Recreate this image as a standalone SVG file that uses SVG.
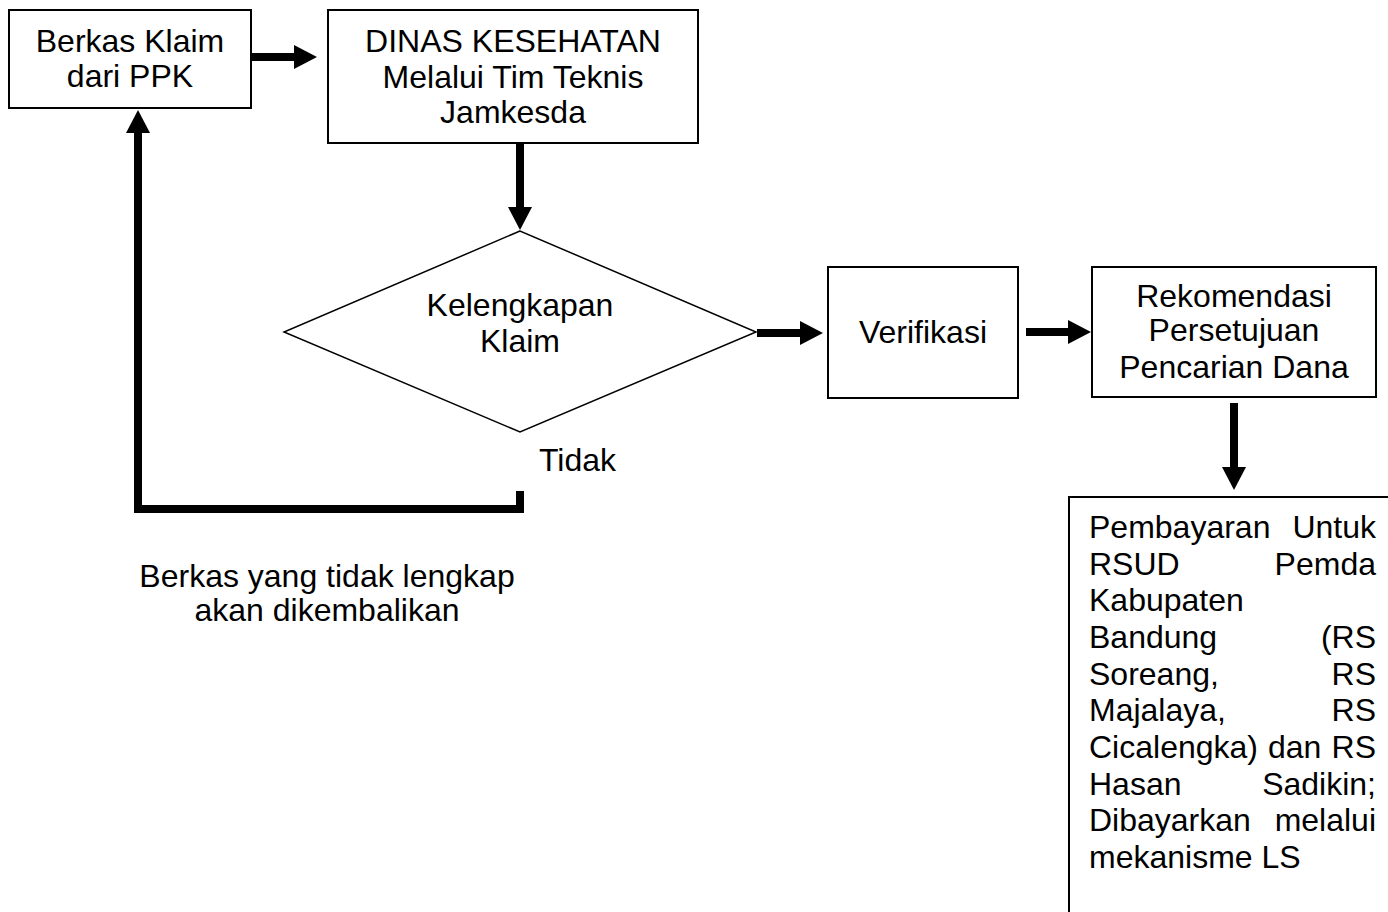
<svg xmlns="http://www.w3.org/2000/svg" width="1388" height="912" viewBox="0 0 1388 912">
<style>
  .box { fill: #ffffff; stroke: #000000; stroke-width: 2; }
  .t { font-family: "Liberation Sans", Arial, sans-serif; font-size: 32px; fill: #000000; }
  .c { text-anchor: middle; }
  .e { text-anchor: end; }
  .con { fill: none; stroke: #000000; stroke-width: 8; stroke-linejoin: miter; stroke-linecap: butt; }
</style>
<defs>
  <marker id="ah" markerUnits="userSpaceOnUse" markerWidth="24" markerHeight="24" viewBox="0 0 24 24" refX="0" refY="12" orient="auto">
    <path d="M0,0 L23,12 L0,24 Z" fill="#000000"/>
  </marker>
</defs>
<rect width="1388" height="912" fill="#ffffff"/>

<g id="node-berkas">
  <rect class="box" x="9" y="10" width="242" height="98"/>
  <text class="t c" x="130" y="52">Berkas Klaim</text>
  <text class="t c" x="130" y="87">dari PPK</text>
</g>

<g id="node-dinas">
  <rect class="box" x="328" y="10" width="370" height="133"/>
  <text class="t c" x="513" y="52">DINAS KESEHATAN</text>
  <text class="t c" x="513" y="88">Melalui Tim Teknis</text>
  <text class="t c" x="513" y="123">Jamkesda</text>
</g>

<g id="node-kelengkapan">
  <polygon points="520,231 284,332 520,432 756,332" fill="#ffffff" stroke="#000000" stroke-width="1.5"/>
  <text class="t c" x="520" y="316">Kelengkapan</text>
  <text class="t c" x="520" y="352">Klaim</text>
</g>

<g id="node-verifikasi">
  <rect class="box" x="828" y="267" width="190" height="131"/>
  <text class="t c" x="923" y="343">Verifikasi</text>
</g>

<g id="node-rekomendasi">
  <rect class="box" x="1092" y="267" width="284" height="130"/>
  <text class="t c" x="1234" y="307">Rekomendasi</text>
  <text class="t c" x="1234" y="341">Persetujuan</text>
  <text class="t c" x="1234" y="378">Pencarian Dana</text>
</g>

<g id="node-pembayaran">
  <rect class="box" x="1069" y="497" width="340" height="440"/>
  <text class="t" x="1089" y="538">Pembayaran</text><text class="t e" x="1376" y="538">Untuk</text>
  <text class="t" x="1089" y="575">RSUD</text><text class="t e" x="1376" y="575">Pemda</text>
  <text class="t" x="1089" y="611">Kabupaten</text>
  <text class="t" x="1089" y="648">Bandung</text><text class="t e" x="1376" y="648">(RS</text>
  <text class="t" x="1089" y="685">Soreang,</text><text class="t e" x="1376" y="685">RS</text>
  <text class="t" x="1089" y="721">Majalaya,</text><text class="t e" x="1376" y="721">RS</text>
  <text class="t" x="1089" y="758">Cicalengka)</text><text class="t" x="1268" y="758">dan</text><text class="t e" x="1376" y="758">RS</text>
  <text class="t" x="1089" y="795">Hasan</text><text class="t e" x="1376" y="795">Sadikin;</text>
  <text class="t" x="1089" y="831">Dibayarkan</text><text class="t e" x="1376" y="831">melalui</text>
  <text class="t" x="1089" y="868">mekanisme LS</text>
</g>

<g id="labels">
  <text class="t" x="539" y="471">Tidak</text>
  <text class="t c" x="327" y="587">Berkas yang tidak lengkap</text>
  <text class="t c" x="327" y="621">akan dikembalikan</text>
</g>

<g id="connectors">
  <line class="con" x1="252" y1="57" x2="294" y2="57" marker-end="url(#ah)"/>
  <line class="con" x1="520" y1="143" x2="520" y2="207" marker-end="url(#ah)"/>
  <line class="con" x1="757" y1="333" x2="800" y2="333" marker-end="url(#ah)"/>
  <line class="con" x1="1026" y1="332" x2="1068" y2="332" marker-end="url(#ah)"/>
  <line class="con" x1="1234" y1="403" x2="1234" y2="467" marker-end="url(#ah)"/>
  <polyline class="con" points="520,491 520,509 138,509 138,133" marker-end="url(#ah)"/>
</g>
</svg>
